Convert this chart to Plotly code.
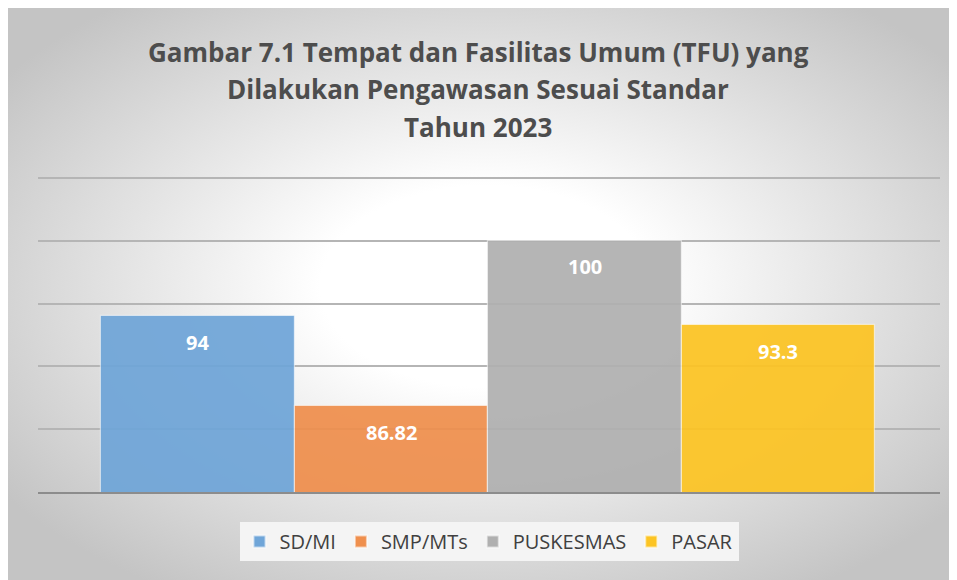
import base64
import plotly.graph_objects as go

# data
categories = ["SD/MI", "SMP/MTs", "PUSKESMAS", "PASAR"]
values = [94, 86.82, 100, 93.3]
colors = ["#6FA5D8", "#EF8F4D", "#B0B0B0", "#FCC423"]
title_lines = [
    "Gambar 7.1 Tempat dan Fasilitas Umum (TFU) yang",
    "Dilakukan Pengawasan Sesuai Standar",
    "Tahun 2023",
]

FONT = "Open Sans"

# radial grey background like the Excel chart area
svg = """<svg xmlns='http://www.w3.org/2000/svg' width='957' height='580' viewBox='0 0 100 100' preserveAspectRatio='none'>
<defs><radialGradient id='g' cx='50%' cy='48%' r='62%'>
<stop offset='0' stop-color='#FFFFFF'/>
<stop offset='0.28' stop-color='#FFFFFF'/>
<stop offset='1' stop-color='#C4C4C4'/>
</radialGradient></defs>
<rect x='0' y='0' width='100' height='100' fill='url(#g)'/></svg>"""
bg_src = "data:image/svg+xml;base64," + base64.b64encode(svg.encode()).decode()

L, R, T, B = 30, 25, 167, 96
PW, PH = 957 - L - R, 580 - T - B

fig = go.Figure()
for cat, val, col in zip(categories, values, colors):
    fig.add_trace(go.Bar(
        x=[cat], y=[val], name=cat,
        marker=dict(color=col, opacity=0.93,
                    line=dict(color="rgba(255,255,255,0.55)", width=1.2)),
        width=1.0,
        hoverinfo="x+y",
    ))

annotations = []
for cat, val in zip(categories, values):
    annotations.append(dict(
        x=cat, y=val, xref="x", yref="y", text=f"<b>{val:g}</b>",
        showarrow=False, yanchor="middle", yshift=-26,
        font=dict(family=FONT, size=20, color="white"),
    ))
title_px = [44, 81, 119]
for line, py in zip(title_lines, title_px):
    annotations.append(dict(
        x=0.488, y=(580 - B - py) / PH, xref="paper", yref="paper",
        text=f"<b>{line}</b>",
        showarrow=False, xanchor="center", yanchor="middle",
        font=dict(family=FONT, size=26, color="#4D4D4D"),
    ))

fig.update_layout(
    width=957, height=580,
    margin=dict(l=L, r=R, t=T, b=B),
    paper_bgcolor="white",
    plot_bgcolor="rgba(0,0,0,0)",
    barmode="overlay",
    bargap=0,
    showlegend=True,
    legend=dict(
        orientation="h", x=0.5, xanchor="center", y=-30 / PH, yanchor="top",
        bgcolor="#F4F4F4", font=dict(family=FONT, size=20, color="#404040"),
        itemsizing="constant", traceorder="normal",
    ),
    xaxis=dict(
        range=[-0.826, 3.835], showticklabels=False, showgrid=False,
        showline=True, linecolor="#8C8C8C", linewidth=2, ticks="",
        fixedrange=True,
    ),
    yaxis=dict(
        range=[80, 105.25], dtick=5, showticklabels=False, showgrid=True,
        gridcolor="#B5B5B5", gridwidth=1.5, zeroline=False, showline=False,
        fixedrange=True,
    ),
    annotations=annotations,
    images=[dict(
        source=bg_src, xref="paper", yref="paper",
        x=-L / PW, y=(580 - B) / PH,
        sizex=957 / PW, sizey=580 / PH,
        xanchor="left", yanchor="top", sizing="stretch", layer="below",
    )],
    font=dict(family=FONT),
)

fig.write_html("out.html")
